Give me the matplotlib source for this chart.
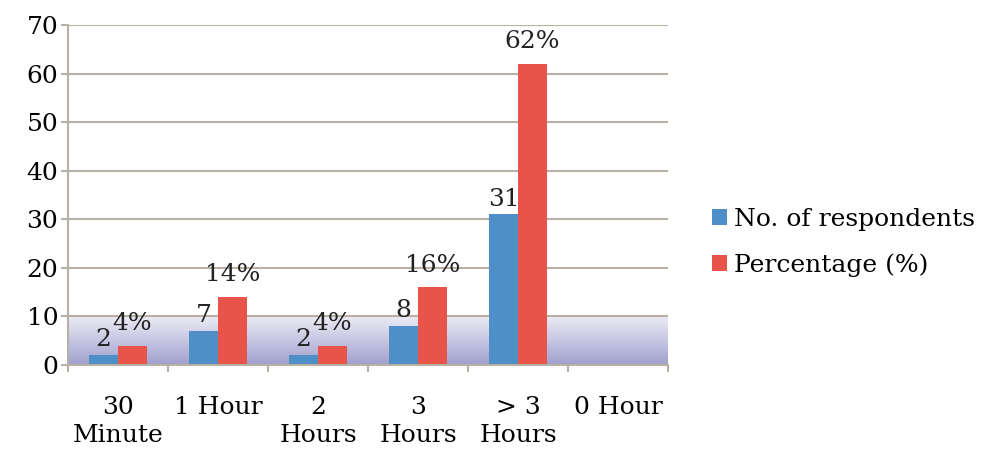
import numpy as np
import matplotlib.pyplot as plt
from matplotlib.colors import LinearSegmentedColormap

categories = ["30\nMinute", "1 Hour", "2\nHours", "3\nHours", "> 3\nHours", "0 Hour"]
respondents = [2, 7, 2, 8, 31, 0]
percentage = [4, 14, 4, 16, 62, 0]
resp_labels = ["2", "7", "2", "8", "31", ""]
pct_labels = ["4%", "14%", "4%", "16%", "62%", ""]

plt.rcParams['font.family'] = ['DejaVu Serif']

def main():
    fig = plt.figure(figsize=(9.82, 4.49), dpi=100)
    ax = fig.add_axes([68 / 982, 1 - 365 / 449, 600 / 982, 340 / 449])

    x = np.arange(len(categories))
    w = 0.29
    grid_col = "#b8b0a4"
    fs = 18

    # gradient band from 0 to 10
    cmap = LinearSegmentedColormap.from_list("band", ["#a0a0cf", "#ecebf5"])
    grad = np.linspace(0, 1, 256).reshape(-1, 1)
    ax.imshow(grad, extent=[-0.5, len(categories) - 0.5, 0, 10], origin="lower",
              aspect="auto", cmap=cmap, zorder=0)

    for yv in range(10, 80, 10):
        ax.axhline(yv, color=grid_col, lw=1.5, zorder=1)

    ax.bar(x - w / 2, respondents, w, color="#4f8fc7", zorder=2, label="No. of respondents")
    ax.bar(x + w / 2, percentage, w, color="#e8534a", zorder=2, label="Percentage (%)")

    for i in range(len(categories)):
        if resp_labels[i]:
            ax.text(x[i] - w / 2, respondents[i] + 0.8, resp_labels[i], ha="center",
                    va="bottom", fontsize=fs, color="#222222", zorder=3)
        if pct_labels[i]:
            ax.text(x[i] + w / 2, percentage[i] + 2.2, pct_labels[i], ha="center",
                    va="bottom", fontsize=fs, color="#222222", zorder=3)

    ax.set_xlim(-0.5, len(categories) - 0.5)
    ax.set_ylim(0, 70)
    ax.set_yticks(range(0, 80, 10))
    ax.set_xticks(np.arange(-0.5, len(categories), 1))
    ax.set_xticklabels([])
    ax.set_xticks(x, minor=True)
    ax.set_xticklabels(categories, minor=True, fontsize=fs, linespacing=1.3)
    ax.tick_params(axis="x", which="minor", length=0, pad=22)
    ax.tick_params(axis="x", which="major", length=5, color=grid_col, width=1.5)
    ax.tick_params(axis="y", length=5, color=grid_col, width=1.5, labelsize=fs, pad=2)
    for s in ["top", "right"]:
        ax.spines[s].set_visible(False)
    for s in ["left", "bottom"]:
        ax.spines[s].set_color(grid_col)
        ax.spines[s].set_linewidth(1.5)

    fig.legend(loc="upper left", bbox_to_anchor=(702 / 982, 1 - 198 / 449), frameon=False,
               fontsize=fs, handlelength=0.6, handleheight=0.6, handletextpad=0.3,
               labelspacing=0.9, borderaxespad=0)

    plt.savefig("out.png")

main()
